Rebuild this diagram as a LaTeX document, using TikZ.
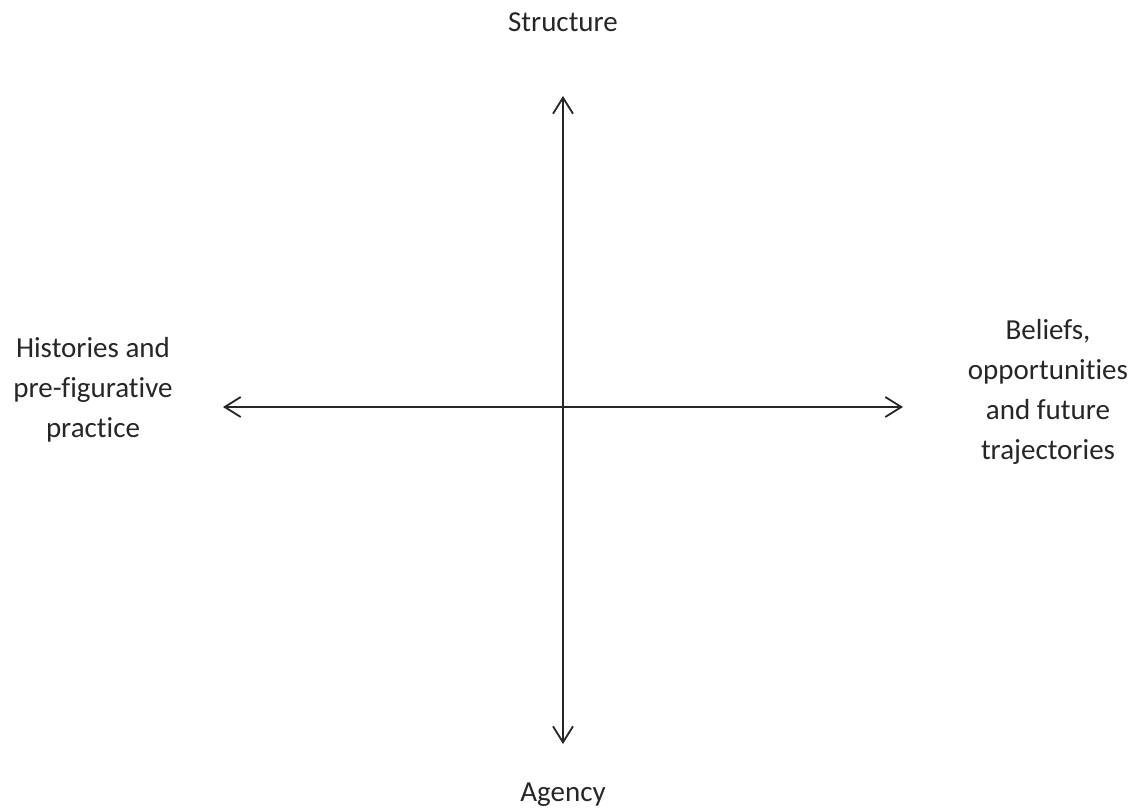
\documentclass[tikz,border=0pt]{standalone}
\usepackage{fontspec}
\setmainfont[Ligatures=NoCommon]{Carlito}
\usepackage{tikz}
\usetikzlibrary{positioning,arrows.meta}
\tikzset{
  axisarrow/.style={{Straight Barb[length=8pt,width=10pt]}-{Straight Barb[length=8pt,width=10pt]}, line width=0.9pt, draw=black!85},
  polelabel/.style={font=\fontsize{14.5}{20}\selectfont, align=center, inner sep=0pt, text=black!85}
}
\begin{document}
\begin{tikzpicture}[x=0.5pt, y=-0.5pt]
  \useasboundingbox (0,0) rectangle (1136,809);
  % axis ends
  \coordinate (top) at (563,96);
  \coordinate (bottom) at (563,744);
  \coordinate (left) at (223,407);
  \coordinate (right) at (903,407);
  \draw[axisarrow] (bottom) -- (top);
  \draw[axisarrow] (left) -- (right);
  % labels
  \node[polelabel] (structure) at (563,22) {Structure};
  \node[polelabel] (agency) at (563,795) {Agency};
  \node[polelabel] (histories) at (93,390) {Histories and\\pre-figurative\\practice};
  \node[polelabel] (beliefs) at (1048,392) {Beliefs,\\opportunities\\and future\\trajectories};
\end{tikzpicture}
\end{document}
